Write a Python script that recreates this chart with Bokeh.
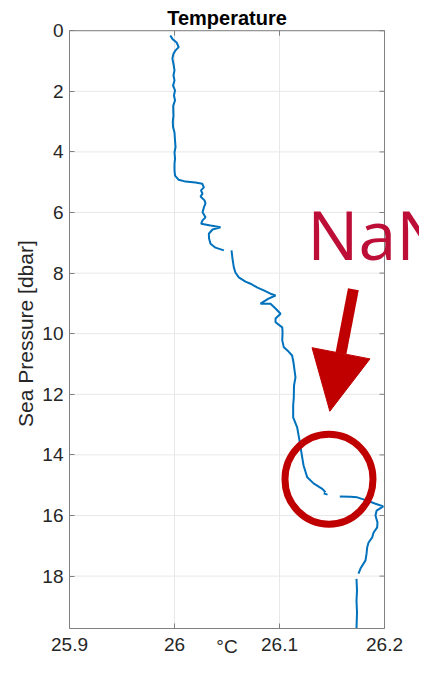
import math
from bokeh.plotting import figure
from bokeh.models import Range1d, FixedTicker, Label, Arrow, NormalHead
from bokeh.core.properties import value
from bokeh.embed import file_html
from bokeh.resources import INLINE

# ---- data; NaN marks gaps in the profile ----
nan = float("nan")
temperature = [
    25.996, 25.998, 26.002, 26.004, 26.001, 25.999, 25.998, 25.999, 26.000, 25.999,
    26.000, 25.9986, 26.0005, 25.9995, 26.0005, 25.9988, 25.9988, 25.999, 25.9984, 25.9986,
    26.000, 26.0005, 26.001, 26.000, 26.0005, 26.000, 26.000, 26.0005, 26.004, 26.0105,
    26.020, 26.0264, 26.028, 26.0252, 26.0267, 26.0248, 26.0286, 26.0295, 26.028, 26.0267,
    26.0295, 26.0267, 26.0254, 26.0343, 26.0438, 26.0362, 26.0327, 26.0329, 26.0343, 26.039,
    26.047,
    nan,
    26.0543, 26.0552, 26.0565, 26.058, 26.0612, 26.0676, 26.0724, 26.079, 26.085, 26.0914,
    26.0962, 26.0895, 26.0819, 26.0914, 26.0962, 26.101, 26.0962, 26.0962, 26.1026, 26.1029,
    26.1026, 26.1041, 26.1086, 26.112, 26.1133, 26.1143, 26.1152, 26.1138, 26.1136, 26.113,
    26.113, 26.1168, 26.119, 26.1216, 26.1229, 26.1264, 26.1324, 26.1407, 26.1438,
    nan,
    26.142, 26.1457,
    nan,
    26.1574, 26.1676, 26.174, 26.1835, 26.1914, 26.1988, 26.1924, 26.1914, 26.1933, 26.193,
    26.1895, 26.1883, 26.1848, 26.1835, 26.1829, 26.1819, 26.1771, 26.1752,
    nan,
    26.1733, 26.1738, 26.1733, 26.1738, 26.1733,
]
pressure = [
    0.16, 0.27, 0.39, 0.54, 0.65, 0.76, 0.92, 1.09, 1.31, 1.48,
    1.64, 1.81, 1.97, 2.14, 2.30, 2.47, 2.63, 2.80, 3.00, 3.18,
    3.36, 3.63, 3.84, 4.02, 4.22, 4.39, 4.61, 4.78, 4.92, 4.98,
    5.01, 5.05, 5.17, 5.27, 5.38, 5.47, 5.60, 5.70, 5.83, 5.99,
    6.16, 6.26, 6.37, 6.43, 6.49, 6.56, 6.70, 6.86, 7.03, 7.16,
    7.25,
    nan,
    7.25, 7.52, 7.81, 7.98, 8.14, 8.28, 8.35, 8.48, 8.57, 8.68,
    8.74, 8.84, 9.01, 9.01, 9.17, 9.34, 9.50, 9.62, 9.79, 9.96,
    10.22, 10.45, 10.59, 10.72, 10.95, 11.21, 11.44, 11.71, 12.10, 12.37,
    12.76, 13.09, 13.52, 14.08, 14.35, 14.74, 14.94, 15.12, 15.23,
    nan,
    15.27, 15.31,
    nan,
    15.37, 15.38, 15.40, 15.51, 15.61, 15.70, 15.84, 16.00, 16.23, 16.39,
    16.57, 16.72, 16.89, 17.05, 17.25, 17.48, 17.75, 17.92,
    nan,
    18.09, 18.48, 18.81, 19.20, 19.73,
]
x_ticks = [25.9, 26.0, 26.1, 26.2]
x_tick_labels = ["25.9", "26", "26.1", "26.2"]
y_ticks = [0, 2, 4, 6, 8, 10, 12, 14, 16, 18]
y_limit = 19.73          # deepest pressure shown (bottom of the axes box)
title_text = "Temperature"
x_title = "°C"
y_title = "Sea Pressure [dbar]"

# view window: larger than the axes box so that titles, axis labels and
# the annotation text have room around it
x_view = (25.8343, 26.2333)
y_view = (20.686, -0.997)

# annotation anchors (data units)
nan_text_pos = (26.1264, 6.70)
arrow_start = (26.1703, 8.535)
arrow_end = (26.1479, 12.558)
circle_center = (26.1471, 14.80)

FONT = "Liberation Sans"
AXIS_COLOR = "#808080"
GRID_COLOR = "#e8e8e8"
TEXT_COLOR = "#262626"
RED = "#C00000"

x_lo, x_hi = x_ticks[0], x_ticks[-1]
y_top = y_ticks[0]

p = figure(width=419, height=657, output_backend="svg", toolbar_location=None,
           x_range=Range1d(*x_view), y_range=Range1d(*y_view),
           min_border_left=0, min_border_right=0, min_border_bottom=0, min_border_top=0)
p.outline_line_color = None
p.background_fill_color = "white"
p.border_fill_color = "white"
p.xgrid.visible = False
p.ygrid.visible = False

# y axis drawn at the left edge of the axes box
ay = p.yaxis[0]
ay.fixed_location = x_lo
ay.bounds = (y_top, y_limit)
ay.ticker = FixedTicker(ticks=y_ticks)
ay.major_label_standoff = 6

# x axis drawn at the bottom of the axes box
ax = p.xaxis[0]
ax.fixed_location = y_limit
ax.bounds = (x_lo, x_hi)
ax.ticker = FixedTicker(ticks=x_ticks)
ax.major_label_overrides = {t: l for t, l in zip(x_ticks, x_tick_labels)}
ax.major_label_standoff = 9

for a in (ax, ay):
    a.axis_line_color = AXIS_COLOR
    a.major_tick_line_color = AXIS_COLOR
    a.major_tick_in = 5
    a.major_tick_out = 0
    a.minor_tick_line_color = None
    a.major_label_text_font = FONT
    a.major_label_text_font_size = "19px"
    a.major_label_text_color = TEXT_COLOR

# grid lines inside the axes box
p.segment(x0=x_ticks, x1=x_ticks, y0=[y_top] * len(x_ticks), y1=[y_limit] * len(x_ticks),
          line_color=GRID_COLOR, line_width=1)
p.segment(x0=[x_lo] * len(y_ticks), x1=[x_hi] * len(y_ticks), y0=y_ticks, y1=y_ticks,
          line_color=GRID_COLOR, line_width=1)

# box: top and right edges
p.segment(x0=[x_lo, x_hi], x1=[x_hi, x_hi], y0=[y_top, y_top], y1=[y_top, y_limit],
          line_color=AXIS_COLOR, line_width=1)

# inward ticks on top and right edges
p.ray(x=x_ticks, y=[y_top] * len(x_ticks), length=5, length_units="screen",
      angle=-math.pi / 2, line_color=AXIS_COLOR, line_width=1)
p.ray(x=[x_hi] * len(y_ticks), y=y_ticks, length=5, length_units="screen",
      angle=math.pi, line_color=AXIS_COLOR, line_width=1)

# titles
p.text(x=[(x_lo + x_hi) / 2], y=[y_top], text=[title_text], y_offset=-13,
       text_align="center", text_baseline="middle", text_font=value(FONT),
       text_font_style="bold", text_font_size="20px", text_color="#000000")
p.text(x=[(x_lo + x_hi) / 2], y=[y_limit], text=[x_title], y_offset=18,
       text_align="center", text_baseline="alphabetic", text_font=value(FONT),
       text_font_size="19px", text_color=TEXT_COLOR)
p.text(x=[x_lo], y=[y_limit / 2], text=[y_title], angle=math.pi / 2,
       x_offset=-44, y_offset=4, text_align="center", text_baseline="middle",
       text_font=value(FONT), text_font_size="21px", text_color=TEXT_COLOR)

# the profile
p.line(temperature, pressure, line_color="#0072BD", line_width=2)

# annotations
p.ellipse(x=[circle_center[0]], y=[circle_center[1]], width=88, height=90,
          width_units="screen", height_units="screen",
          fill_color=None, line_color=RED, line_width=7)
p.add_layout(Arrow(end=NormalHead(size=59, fill_color=RED, line_color=RED),
                   x_start=arrow_start[0], y_start=arrow_start[1],
                   x_end=arrow_end[0], y_end=arrow_end[1],
                   line_color=RED, line_width=11))
p.add_layout(Label(x=nan_text_pos[0], y=nan_text_pos[1], text="NaN",
                   text_font="Open Sans", text_font_size="68px", text_color="#BC0E37",
                   text_align="left", text_baseline="alphabetic"))

open("out.html", "w").write(file_html(p, INLINE))
